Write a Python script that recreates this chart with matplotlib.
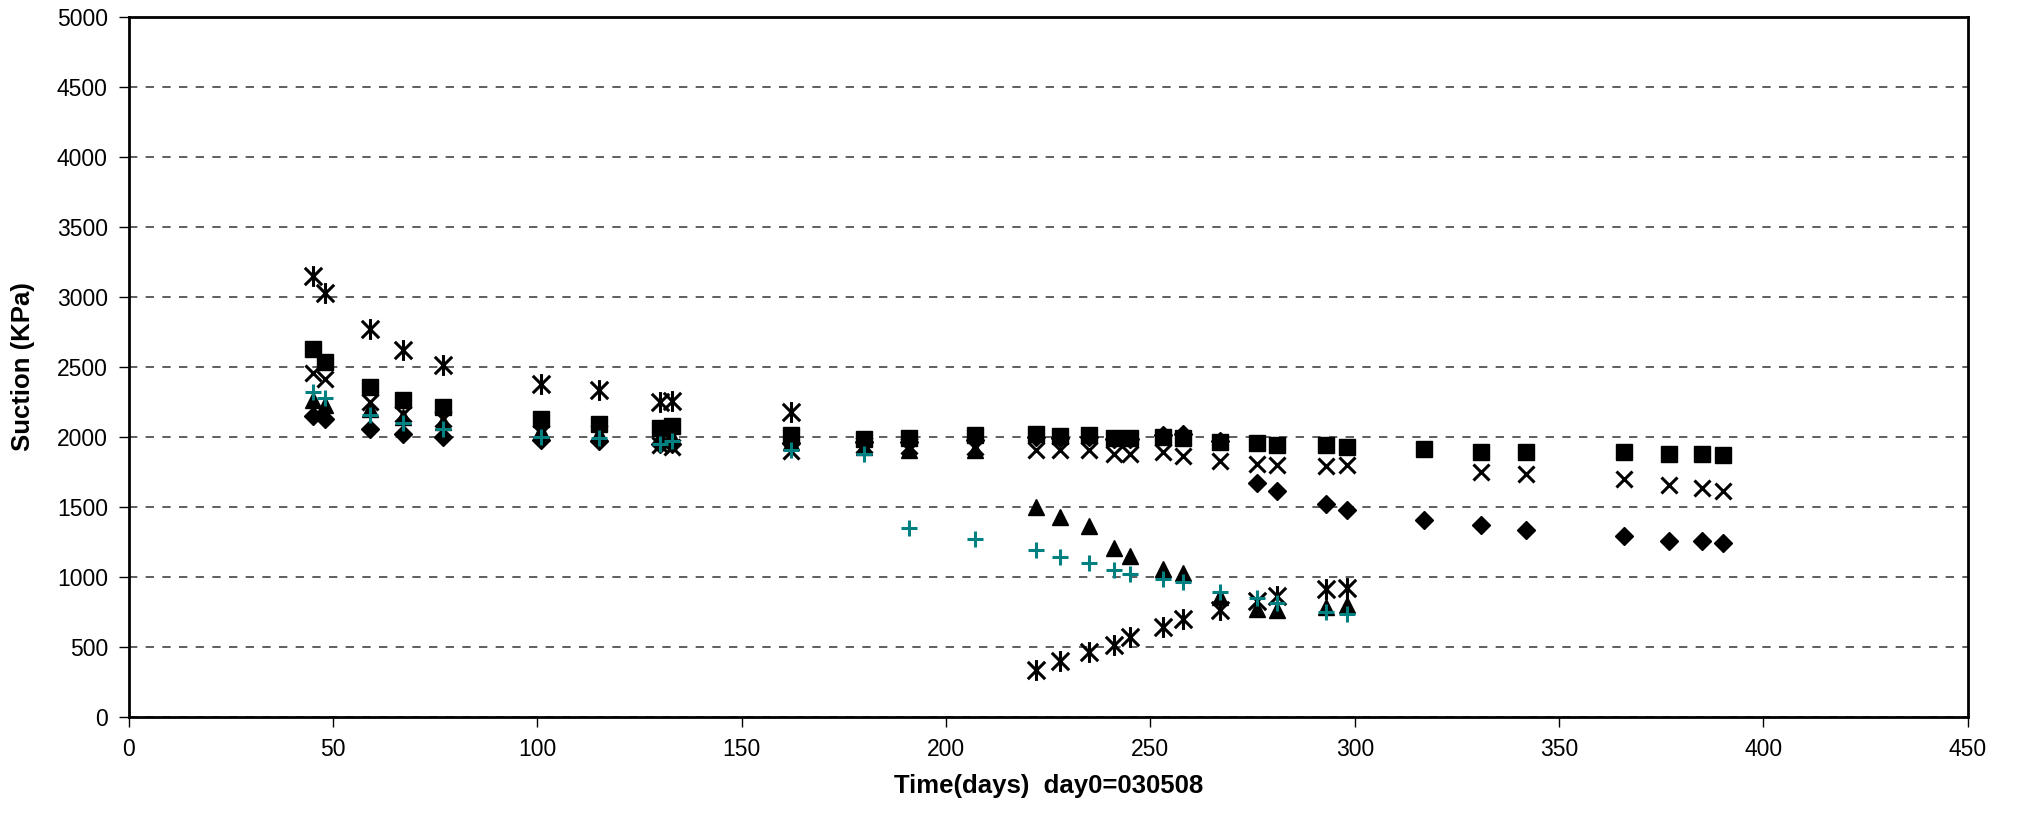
import matplotlib
matplotlib.use('Agg')
import matplotlib.pyplot as plt
from matplotlib.path import Path

plt.rcParams['font.family'] = ['Liberation Sans', 'DejaVu Sans']

# sampling days (day0 = 030508)
days_all = [45, 48, 59, 67, 77, 101, 115, 130, 133, 162, 180, 191, 207, 222, 228, 235,
            241, 245, 253, 258, 267, 276, 281, 293, 298, 317, 331, 342, 366, 377, 385, 390]

diamond_vals = [2150, 2125, 2055, 2020, 1995, 1975, 1970, 1950, 1945, 1955, 1960, 1960, 1975,
                1995, 1990, 1995, 1985, 1985, 2010, 2020, 1970, 1670, 1610, 1520, 1478,
                1405, 1368, 1332, 1292, 1258, 1255, 1238]

square_vals = [2625, 2535, 2357, 2265, 2212, 2130, 2090, 2060, 2075, 2010, 1985, 1990, 2015,
               2022, 2005, 2010, 1990, 1990, 1995, 1990, 1960, 1955, 1940, 1940, 1930,
               1912, 1893, 1890, 1888, 1876, 1876, 1870]

tri_days = days_all[:25]
tri_vals = [2265, 2230, 2200, 2140, 2105, 2040, 2020, 2000, 2000, 1960, 1930, 1905, 1905,
            1500, 1430, 1362, 1202, 1150, 1055, 1025, 857, 770, 765, 785, 800]

x_days = days_all[:25] + [331, 342, 366, 377, 385, 390]
x_vals = [2455, 2410, 2250, 2165, 2125, 2025, 2030, 1940, 1930, 1895, 1940, 1935, 1925,
          1905, 1905, 1905, 1880, 1880, 1890, 1865, 1830, 1808, 1800, 1793, 1798,
          1750, 1733, 1695, 1655, 1632, 1612]

star_days = [45, 48, 59, 67, 77, 101, 115, 130, 133, 162, 222, 228, 235, 241, 245, 253, 258,
             267, 276, 281, 293, 298]
star_vals = [3150, 3030, 2770, 2620, 2515, 2375, 2335, 2250, 2255, 2180, 335, 395, 465, 515,
             570, 640, 695, 765, 830, 860, 915, 920]

plus_days = days_all[:25]
plus_vals = [2320, 2275, 2155, 2095, 2055, 1995, 1988, 1950, 1970, 1905, 1878, 1345, 1272,
             1190, 1140, 1100, 1045, 1020, 982, 965, 893, 846, 812, 748, 733]

# Excel style star: an X with a vertical bar through it
star_marker = Path([(-1, -1), (1, 1), (-1, 1), (1, -1), (0, -1.2), (0, 1.2)],
                   [Path.MOVETO, Path.LINETO, Path.MOVETO, Path.LINETO, Path.MOVETO, Path.LINETO])

fig = plt.figure(figsize=(20.17, 8.18), dpi=100)
ax = fig.add_axes([0.0638, 0.1238, 0.9118, 0.8558])

ax.plot(days_all, diamond_vals, ls='none', marker='D', ms=9.5, color='black')
ax.plot(days_all, square_vals, ls='none', marker='s', ms=11, color='black')
ax.plot(tri_days, tri_vals, ls='none', marker='^', ms=12, color='black')
ax.plot(x_days, x_vals, ls='none', marker='x', ms=12, mew=2.2, color='black')
ax.plot(star_days, star_vals, ls='none', marker=star_marker, ms=15, mew=2.2, color='black')
ax.plot(plus_days, plus_vals, ls='none', marker='+', ms=12, mew=2.2, color='#008080')

ax.set_xlim(0, 450)
ax.set_ylim(0, 5000)
ax.set_xticks(range(0, 451, 50))
ax.set_yticks(range(0, 5001, 500))
ax.yaxis.grid(True, ls=(0, (5, 5)), color='#444444', lw=1.2)
ax.set_axisbelow(True)

for s in ax.spines.values():
    s.set_linewidth(2)
    s.set_color('black')
ax.tick_params(direction='out', length=7, width=1, labelsize=16.5, pad=8)

ax.set_xlabel('Time(days)  day0=030508', fontsize=18.5, fontweight='bold', labelpad=10)
ax.set_ylabel('Suction (KPa)', fontsize=18.5, fontweight='bold', labelpad=16)

fig.savefig('out.png', dpi=100)
